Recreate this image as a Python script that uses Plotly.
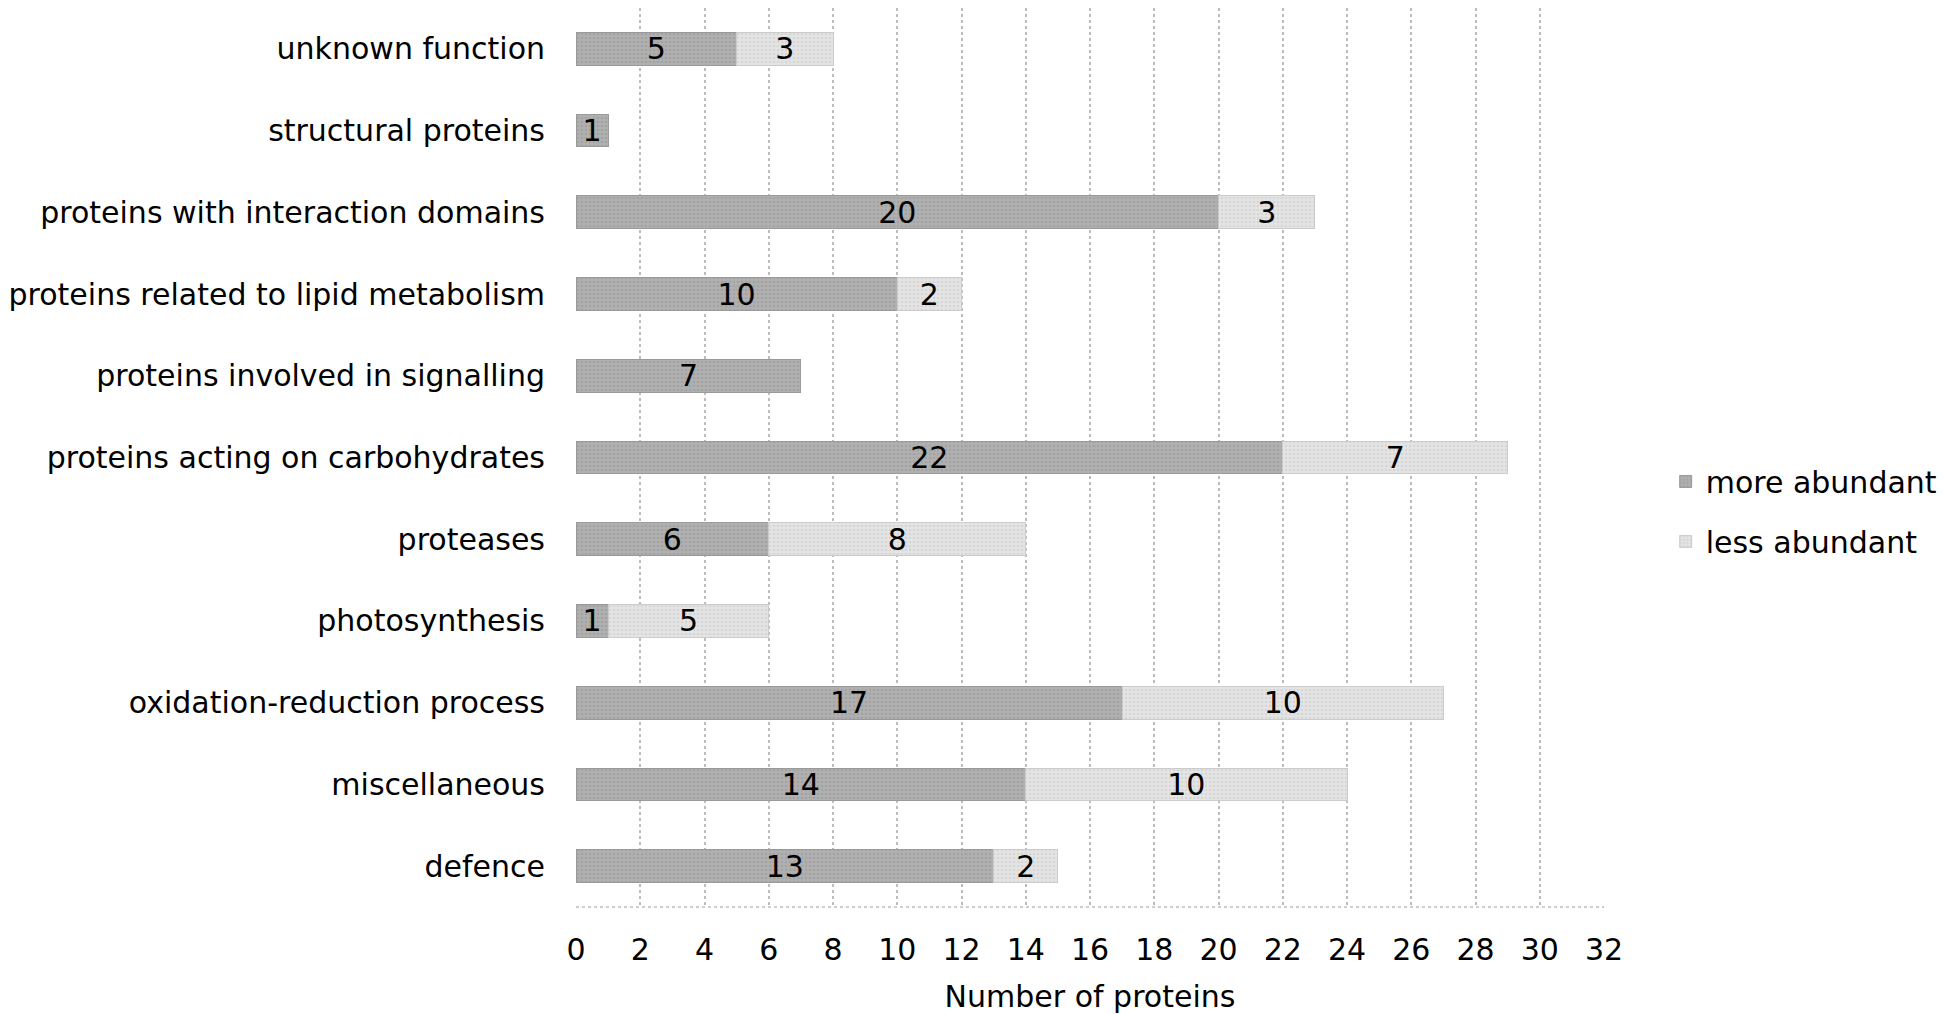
import plotly.graph_objects as go

categories = [
    "unknown function",
    "structural proteins",
    "proteins with interaction domains",
    "proteins related to lipid metabolism",
    "proteins involved in signalling",
    "proteins acting on carbohydrates",
    "proteases",
    "photosynthesis",
    "oxidation-reduction process",
    "miscellaneous",
    "defence",
]
more_abundant = [5, 1, 20, 10, 7, 22, 6, 1, 17, 14, 13]
less_abundant = [3, None, 3, 2, None, 7, 8, 5, 10, 10, 2]
x_ticks = list(range(0, 33, 2))

FONT = "DejaVu Sans, Verdana, sans-serif"
FS = 30

fig = go.Figure()
fig.add_trace(go.Bar(
    y=categories, x=more_abundant, orientation="h", name="more abundant",
    legendgroup="a", legendrank=1,
    text=[str(v) if v is not None else "" for v in more_abundant],
    textposition="inside", insidetextanchor="middle", textangle=0,
    textfont=dict(color="black", size=FS, family=FONT),
    marker=dict(color="#a8a8a8",
                line=dict(color="#9a9a9a", width=1),
                pattern=dict(shape=".", fgcolor="#959595", bgcolor="#b0b0b0",
                             size=4, solidity=0.35)),
))
fig.add_trace(go.Bar(
    y=categories, x=less_abundant, orientation="h", name="less abundant",
    legendgroup="b", legendrank=2,
    text=[str(v) if v is not None else "" for v in less_abundant],
    textposition="inside", insidetextanchor="middle", textangle=0,
    textfont=dict(color="black", size=FS, family=FONT),
    marker=dict(color="#dadada",
                line=dict(color="#cccccc", width=1),
                pattern=dict(shape=".", fgcolor="#c8c8c8", bgcolor="#e4e4e4",
                             size=4, solidity=0.35)),
))

fig.update_layout(
    width=1938, height=1006,
    barmode="stack", bargap=0.6,
    paper_bgcolor="white", plot_bgcolor="white",
    margin=dict(l=568, r=342, t=0, b=107),
    font=dict(family=FONT, size=FS, color="black"),
    uniformtext=dict(minsize=FS, mode="show"),
    legend=dict(x=1.06, y=0.44, xanchor="left", yanchor="middle",
                traceorder="grouped", tracegroupgap=18,
                font=dict(size=FS, family=FONT),
                itemwidth=30, bgcolor="rgba(0,0,0,0)"),
    showlegend=True,
)
fig.update_xaxes(
    range=[0, 32], tickvals=x_ticks, ticktext=[str(t) for t in x_ticks],
    showgrid=True, gridcolor="#bdbdbd", gridwidth=1.5, griddash="dot",
    zeroline=False, showline=False, ticks="", ticklabelstandoff=22,
    automargin=False, tickfont=dict(size=FS),
    title=dict(text="Number of proteins", font=dict(size=FS), standoff=20),
)
fig.update_yaxes(
    autorange="reversed", showgrid=False, zeroline=False, showline=False,
    ticks="", ticklabelstandoff=30, automargin=False, tickfont=dict(size=FS),
)
fig.add_shape(type="line", xref="paper", yref="paper", x0=0, x1=1, y0=0, y1=0,
              line=dict(color="#bdbdbd", width=1.5, dash="dot"), layer="below")

fig.write_html("out.html")
